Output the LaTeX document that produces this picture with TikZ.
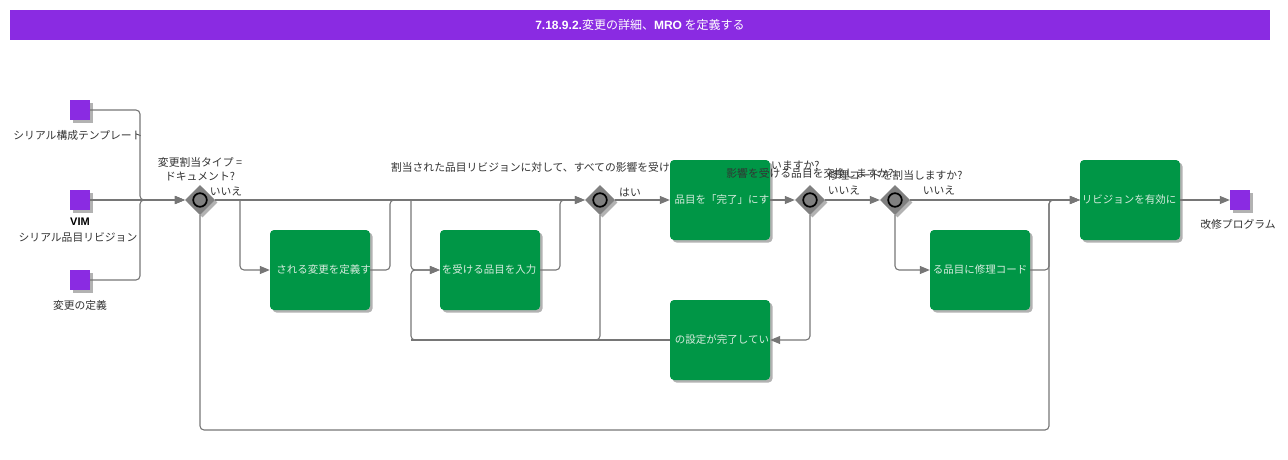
\documentclass[tikz,border=0pt]{standalone}
\usepackage{fontspec}
\newfontfamily\jp{Noto Sans CJK JP}
\newfontfamily\ar{Liberation Sans}
\usetikzlibrary{shapes.geometric,arrows.meta,shadows}
\definecolor{vio}{RGB}{138,43,226}
\definecolor{grn}{RGB}{0,150,70}
\definecolor{ln}{RGB}{118,118,118}
\definecolor{gw}{RGB}{128,128,128}
\definecolor{txt}{RGB}{51,51,51}
\definecolor{btxt}{RGB}{215,235,222}
\begin{document}
\begin{tikzpicture}[x=1pt,y=-1pt,
  shd/.style={drop shadow={shadow xshift=2.5pt,shadow yshift=-2.5pt,opacity=0.3,fill=black}},
  task/.style={rectangle,rounded corners=4pt,fill=grn,minimum width=100pt,minimum height=80pt,inner sep=0pt,shd},
  data/.style={rectangle,fill=vio,minimum size=20pt,inner sep=0pt,shd},
  gate/.style={diamond,fill=gw,minimum width=30pt,minimum height=30pt,inner sep=0pt,shd,
    path picture={\draw[line width=1.7pt,black] (path picture bounding box.center) circle (6.8pt);}},
  conn/.style={draw=ln,line width=1.1pt,rounded corners=4pt},
  arr/.style={conn,-{Triangle[length=10pt,width=8pt]}},
  lbl/.style={font=\jp\fontsize{10.8}{13.5}\selectfont,text=txt,inner sep=0pt,align=center},
  btx/.style={font=\jp\fontsize{10.5}{12}\selectfont,text=btxt,inner sep=0pt},
]
\useasboundingbox (0,0) rectangle (1288,460);
% title
\node[fill=vio,minimum width=1260pt,minimum height=30pt,inner sep=0pt,text=white,
  font=\jp\fontsize{12}{14}\selectfont] (title) at (640,25)
  {{\ar\bfseries 7.18.9.2.}変更の詳細、{\ar\bfseries MRO} を定義する};
% gateway 2 label (partly hidden by task)
\node[lbl,anchor=east] (g2la) at (670,167) {割当された品目リビジョンに対して、すべての影響を受け};
\node[lbl,anchor=west] (g2lb) at (771,166) {いますか?};
% data objects
\node[data] (in1) at (80,110) {};
\node[data] (in2) at (80,200) {};
\node[data] (in3) at (80,280) {};
\node[data] (out) at (1240,200) {};
\node[lbl] (l1) at (78,135) {シリアル構成テンプレート};
\node[lbl,font=\ar\bfseries\fontsize{11}{12}\selectfont,text=black] (l2a) at (80,222) {VIM};
\node[lbl] (l2b) at (78,237) {シリアル品目リビジョン};
\node[lbl] (l3) at (80,305) {変更の定義};
\node[lbl] (l4) at (1238,224) {改修プログラム};
% gateways
\node[gate] (g1) at (200,200) {};
\node[gate] (g2) at (600,200) {};
\node[gate] (g3) at (810,200) {};
\node[gate] (g4) at (895,200) {};
% tasks
\node[task] (b1) at (320,270) {};
\node[task] (b2) at (490,270) {};
\node[task] (b3) at (720,200) {};
\node[task] (b4) at (720,340) {};
\node[task] (b5) at (1130,200) {};
\node[task] (b6) at (980,270) {};
\node[btx] (t1) at (323.5,270) {される変更を定義す};
\node[btx] (t2) at (489,270) {を受ける品目を入力};
\node[btx] (t3) at (722,200) {品目を「完了」にす};
\node[btx] (t4) at (722,340) {の設定が完了してい};
\node[btx] (t5) at (1129,200) {リビジョンを有効に};
\node[btx] (t6) at (980,270) {る品目に修理コード};
% gateway labels
\node[lbl] (g1l) at (200,169) {変更割当タイプ =\\ドキュメント?};
\node[lbl] (g3l) at (810,173) {影響を受ける品目を交換しますか?};
\node[lbl] (g4l) at (895,175) {修理コードを割当しますか?};
\node[lbl] (y1) at (226,191) {いいえ};
\node[lbl] (y2) at (630,193) {はい};
\node[lbl] (y3) at (844,190) {いいえ};
\node[lbl] (y4) at (939,190) {いいえ};
% connectors
\coordinate (jin) at (140,200);
\draw[arr] (in1.east) -| (jin) -- (g1.west);
\draw[arr] (in3.east) -| (jin) -- (g1.west);
\draw[arr] (in2.east) -- (g1.west);
\draw[arr] (g1.east) -- (g2.west);
\coordinate (c1) at (240,200);
\draw[arr] (c1) |- (b1.west);
\coordinate (c2) at (390,200);
\coordinate (c2b) at (400,200);
\draw[conn] (b1.east) -| (c2) -- (c2b);
\coordinate (c3) at (411,200);
\coordinate (c3m) at (411,270);
\coordinate (c4) at (411,340);
\draw[arr] (c3) -- (c3m) -- (b2.west);
\draw[arr] (g2.south) |- (c4) -- (c3m) -- (b2.west);
\draw[conn] (b4.west) -- (c4);
\coordinate (c5) at (560,200);
\draw[arr] (b2.east) -| (c5) -- (g2.west);
\draw[arr] (g2.east) -- (b3.west);
\draw[arr] (b3.east) -- (g3.west);
\draw[arr] (g3.south) |- (b4.east);
\draw[arr] (g3.east) -- (g4.west);
\draw[arr] (g4.east) -- (b5.west);
\draw[arr] (g4.south) |- (b6.west);
\coordinate (c6) at (1049,200);
\draw[arr] (b6.east) -| (c6) -- (b5.west);
\coordinate (c7) at (200,430);
\coordinate (c8) at (1049,430);
\draw[arr] (g1.south) -- (c7) -- (c8) -- (c6) -- (b5.west);
\draw[arr] (b5.east) -- (out.west);
\end{tikzpicture}
\end{document}
